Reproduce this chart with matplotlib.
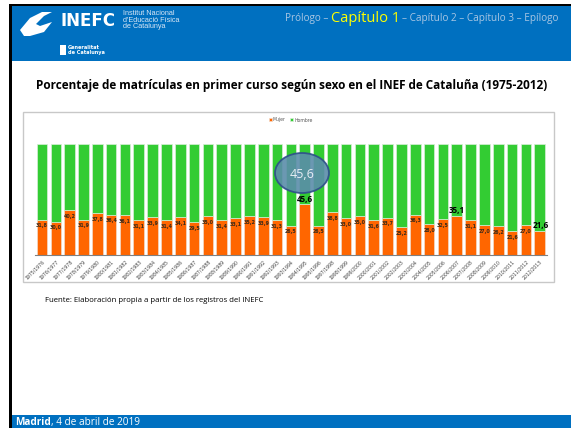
import matplotlib
matplotlib.use("Agg")
import matplotlib.pyplot as plt
from matplotlib.patches import Rectangle, Ellipse, Polygon
import numpy as np

cursos = ["1975/1976", "1976/1977", "1977/1978", "1978/1979", "1979/1980", "1980/1981",
          "1981/1982", "1982/1983", "1983/1984", "1984/1985", "1985/1986", "1986/1987",
          "1987/1988", "1988/1989", "1989/1990", "1990/1991", "1991/1992", "1992/1993",
          "1993/1994", "1994/1995", "1995/1996", "1997/1998", "1998/1999", "1999/2000",
          "2000/2001", "2001/2002", "2002/2003", "2003/2004", "2004/2005", "2005/2006",
          "2006/2007", "2007/2008", "2008/2009", "2009/2010", "2010/2011", "2011/2012",
          "2012/2013"]
mujer = [31.8, 30.0, 40.2, 31.9, 37.8, 36.4, 36.1, 31.1, 33.9, 31.4, 34.1, 29.5,
         35.0, 31.4, 33.1, 35.2, 33.9, 31.3, 26.5, 45.6, 26.5, 38.8, 33.0, 35.0,
         31.6, 33.7, 25.2, 36.3, 28.0, 32.5, 35.1, 31.1, 27.0, 26.2, 21.6, 27.0, 21.6]
hombre = [round(100 - m, 1) for m in mujer]
destacados = ["1994/1995", "2006/2007", "2012/2013"]

W, H = 571, 428
fig = plt.figure(figsize=(W / 100, H / 100), dpi=100)
fig.patch.set_facecolor("white")
renderer = fig.canvas.get_renderer()

def fx(x):
    return x / W

def fy(y):
    return 1 - y / H

def rect(x0, y0, x1, y1, color, z=0):
    fig.patches.append(Rectangle((fx(x0), fy(y1)), fx(x1) - fx(x0), fy(y0) - fy(y1),
                                 transform=fig.transFigure, facecolor=color,
                                 edgecolor="none", zorder=z))

def right_px(t):
    bb = t.get_window_extent(renderer=renderer)
    return bb.x1

BLUE = "#0070C0"
# header & footer bands
rect(12, 5, 571, 61, BLUE)
rect(12, 415, 571, 428, BLUE)
# slide borders
rect(9, 4, 571, 6, "black", 1)
rect(9, 4, 12, 428, "black", 1)

# INEFC logo
logo = Polygon([[fx(x), fy(y)] for x, y in
                [(20, 30), (30, 18), (42, 12), (52, 12), (44, 16), (36, 24),
                 (40, 26), (52, 22), (44, 32), (30, 36), (24, 36)]],
               closed=True, transform=fig.transFigure, facecolor="white",
               edgecolor="none", zorder=2)
fig.patches.append(logo)
fig.text(fx(60), fy(21), "INEFC", color="white", fontsize=12, fontweight="bold",
         family="DejaVu Sans", va="center", ha="left")
fig.text(fx(123), fy(20), "Institut Nacional\nd'Educació Física\nde Catalunya",
         color="#D8E6F5", fontsize=5.2, va="center", ha="left", linespacing=0.95,
         family="Liberation Sans")
rect(60, 45, 66, 55, "white", 2)
fig.text(fx(68), fy(50), "Generalitat\nde Catalunya", color="white", fontsize=3.6,
         fontweight="bold", va="center", ha="left", linespacing=0.95)

# navigation
nav_y = fy(19)
t1 = fig.text(fx(285), nav_y, "Prólogo – ", color="#A9C6E3", fontsize=7.2,
              va="center", ha="left", family="Open Sans")
t2 = fig.text(right_px(t1) / W, nav_y, "Capítulo 1", color="#FFFF00", fontsize=10.5,
              va="center", ha="left", family="Open Sans")
fig.text(right_px(t2) / W + 0.003, nav_y, "– Capítulo 2 – Capítulo 3 – Epílogo",
         color="#A9C6E3", fontsize=7.2, va="center", ha="left", family="Open Sans")

# title
fig.text(fx(292), fy(85), "Porcentaje de matrículas en primer curso según sexo en el INEF de Cataluña (1975-2012)",
         fontsize=8.5, fontweight="bold", ha="center", va="center", family="Open Sans")

# chart frame
fig.patches.append(Rectangle((fx(23), fy(282)), fx(554) - fx(23), fy(112) - fy(282),
                             transform=fig.transFigure, facecolor="white",
                             edgecolor="#C8C8C8", linewidth=1.0, zorder=0.5))

ax = fig.add_axes([fx(35.1), fy(255), fx(546.6) - fx(35.1), fy(144) - fy(255)])
ax.set_zorder(2)
ax.set_facecolor("none")
x = np.arange(len(cursos))
ax.bar(x, mujer, width=0.77, color="#FF6600", edgecolor="#F2D9C8", linewidth=0.5,
       label="Mujer")
ax.bar(x, hombre, width=0.77, bottom=mujer, color="#33CC33", edgecolor="#D8EED8",
       linewidth=0.5, label="Hombre")
ax.set_xlim(-0.5, len(cursos) - 0.5)
ax.set_ylim(0, 100)
ax.set_yticks([])
for s in ["top", "right", "left"]:
    ax.spines[s].set_visible(False)
ax.spines["bottom"].set_color("#808080")
ax.spines["bottom"].set_linewidth(0.8)
ax.set_xticks(x)
ax.set_xticklabels(cursos, rotation=45, ha="right", rotation_mode="anchor",
                   fontsize=3.3, color="#404040")
ax.tick_params(axis="x", length=0, pad=3)

for xi, c, m in zip(x, cursos, mujer):
    lab = f"{m:.1f}".replace(".", ",")
    if c in destacados:
        ax.text(xi + (0.1 if c == "2012/2013" else 0), m + 0.5, lab, ha="center",
                va="bottom", fontsize=5.8, fontweight="bold", color="black",
                family="Open Sans")
    else:
        ax.text(xi, m - 5.5, lab, ha="center", va="center", fontsize=3.4,
                fontweight="bold", color="#3A2A1A")

# legend
leg = ax.legend(loc="center", bbox_to_anchor=(0.5, (fy(120) - fy(255)) / (fy(144) - fy(255))),
                ncol=2, frameon=False, fontsize=3.3, handlelength=0.6, handleheight=0.6,
                handletextpad=0.2, columnspacing=1.0)
for t in leg.get_texts():
    t.set_color("#595959")

# highlight ellipse
e = Ellipse((fx(302), fy(173)), fx(54), 40 / H, transform=fig.transFigure,
            facecolor="#5B8DAA", edgecolor="#2E4F8A", linewidth=1.3, alpha=0.9, zorder=5)
fig.patches.append(e)
fig.text(fx(302), fy(174), "45,6", color="#E8EEF5", fontsize=9, ha="center",
         va="center", zorder=6, family="Open Sans")

# source
fig.text(fx(45), fy(300), "Fuente: Elaboración propia a partir de los registros del INEFC",
         fontsize=5.6, ha="left", va="center", family="Open Sans")

# footer
f1 = fig.text(fx(15), fy(422.5), "Madrid", color="white", fontsize=7.2, fontweight="bold",
              ha="left", va="center", family="Open Sans")
fig.text(right_px(f1) / W, fy(422.5), ", 4 de abril de 2019", color="white", fontsize=7.2,
         ha="left", va="center", family="Open Sans")

fig.savefig("out.png", dpi=100, facecolor="white")
